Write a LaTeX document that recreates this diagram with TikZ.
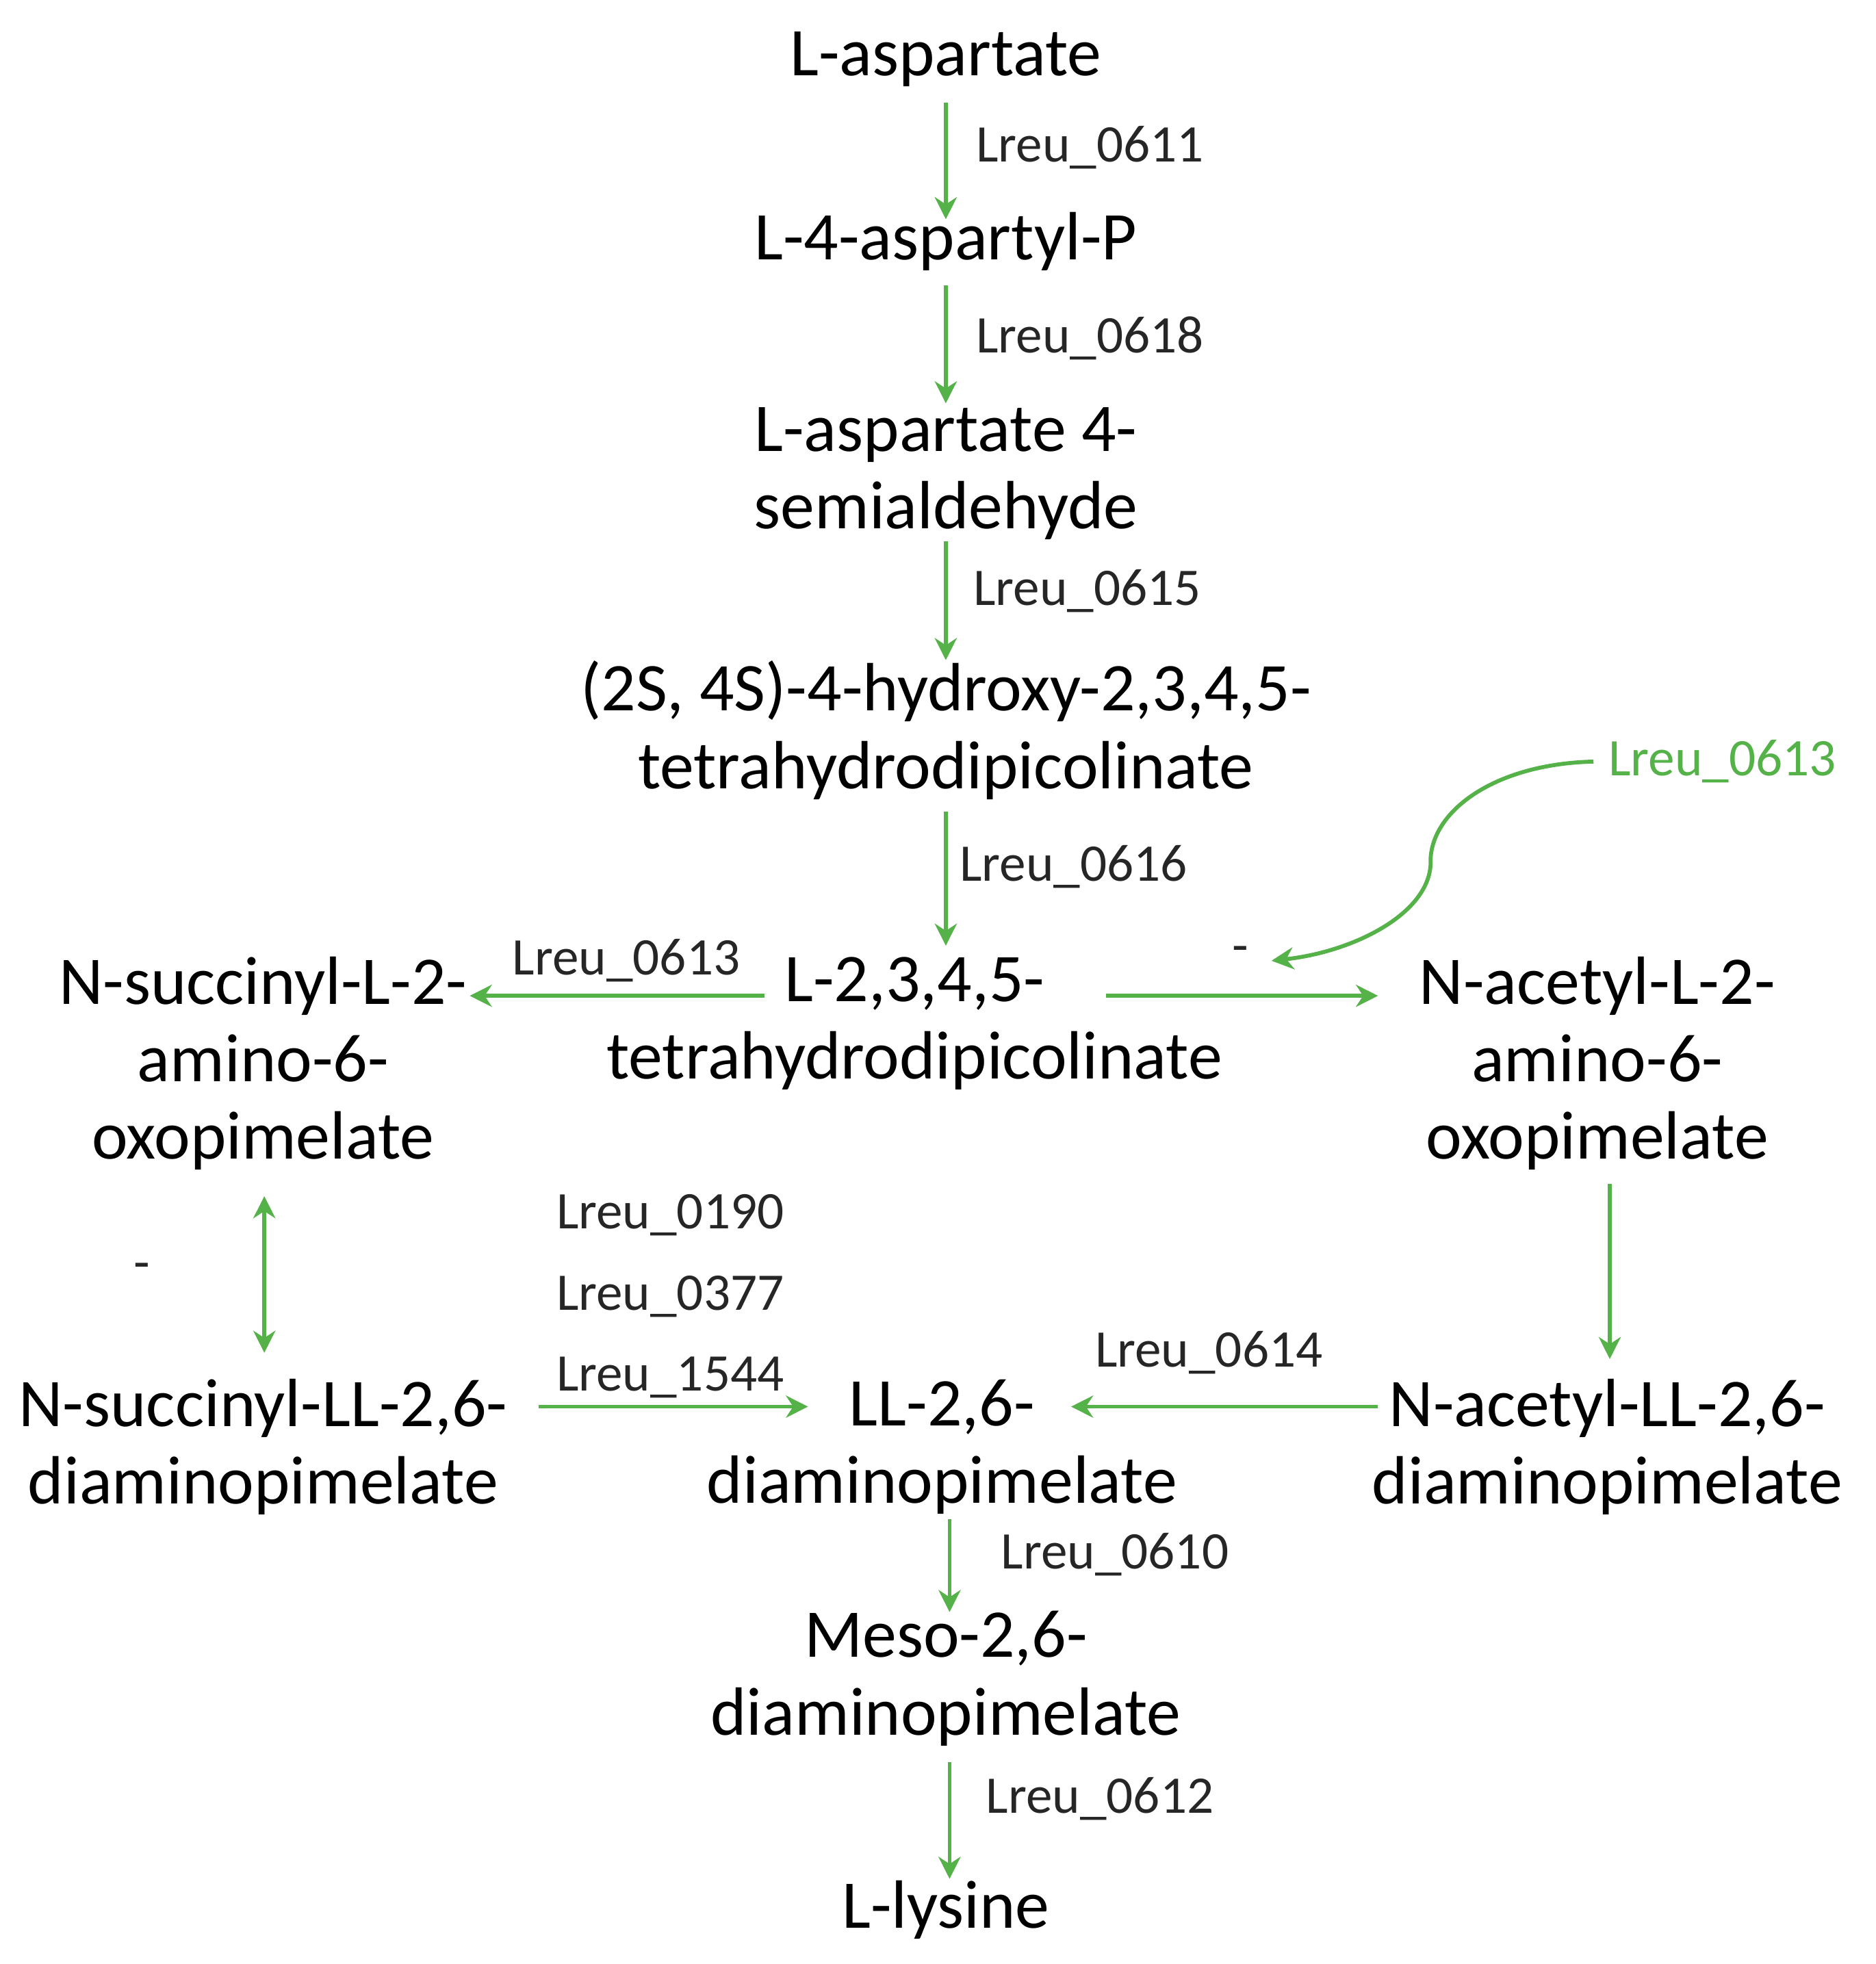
\documentclass[tikz,border=0pt]{standalone}
\usepackage{fontspec}
\setmainfont{Carlito}
\usetikzlibrary{arrows.meta}
\definecolor{grn}{RGB}{84,178,72}
\begin{document}
\begin{tikzpicture}[x=0.01cm,y=-0.01cm,
 met/.style={align=center,font=\fontsize{15.5}{17.6}\selectfont,inner sep=0pt},
 lab/.style={font=\fontsize{12}{14}\selectfont,inner sep=0pt,text=black!85},
 arr/.style={draw=grn,line width=0.9pt,-{Stealth[length=5pt,width=5pt]}}]
\useasboundingbox (0,0) rectangle (1497,1568);
\node[met] (asp) at (755,47) {L-aspartate};
\node[met] (ap) at (755,193) {L-4-aspartyl-P};
\node[met] (semi) at (755,378) {L-aspartate 4-\\semialdehyde};
\node[met] (hyd) at (755,583) {(2S, 4S)-4-hydroxy-2,3,4,5-\\tetrahydrodipicolinate};
\node[met] (thdp) at (730,817) {L-2,3,4,5-\\tetrahydrodipicolinate};
\node[met] (nsu) at (210,849) {N-succinyl-L-2-\\amino-6-\\oxopimelate};
\node[met] (nac) at (1275,849) {N-acetyl-L-2-\\amino-6-\\oxopimelate};
\node[met] (nsuLL) at (210,1155) {N-succinyl-LL-2,6-\\diaminopimelate};
\node[met] (LL) at (752,1155) {LL-2,6-\\diaminopimelate};
\node[met] (nacLL) at (1283,1155) {N-acetyl-LL-2,6-\\diaminopimelate};
\node[met] (meso) at (755,1340) {Meso-2,6-\\diaminopimelate};
\node[met] (lys) at (755,1525) {L-lysine};

\coordinate (a1) at (755,82); \coordinate (a2) at (755,175);
\coordinate (b1) at (755,228); \coordinate (b2) at (755,322);
\coordinate (c1) at (755,432); \coordinate (c2) at (755,527);
\coordinate (d1) at (755,648); \coordinate (d2) at (755,755);
\draw[arr] (a1) -- (a2); \draw[arr] (b1) -- (b2);
\draw[arr] (c1) -- (c2); \draw[arr] (d1) -- (d2);
\node[lab] (l1) at (870,118) {Lreu\_0611};
\node[lab] (l2) at (870,270) {Lreu\_0618};
\node[lab] (l3) at (868,472) {Lreu\_0615};
\node[lab] (l4) at (857,692) {Lreu\_0616};

\coordinate (e1) at (610,795); \coordinate (e2) at (375,795);
\draw[arr] (e1) -- (e2);
\node[lab] (l5) at (500,767) {Lreu\_0613};
\coordinate (f1) at (883,795); \coordinate (f2) at (1100,795);
\draw[arr] (f1) -- (f2);
\node[lab,text=grn] (l6) at (1375,608) {Lreu\_0613};
\coordinate (g1) at (1272,608); \coordinate (g2) at (1015,767);
\draw[arr] (g1) .. controls (1190,610) and (1140,650) .. (1142,690) .. controls (1140,730) and (1080,760) .. (g2);
\node[lab] (m1) at (990,762) {-};

\coordinate (h1) at (211,955); \coordinate (h2) at (211,1080);
\draw[arr,{Stealth[length=5pt,width=5pt]}-{Stealth[length=5pt,width=5pt]}] (h1) -- (h2);
\node[lab] (m2) at (113,1015) {-};
\coordinate (i1) at (1285,945); \coordinate (i2) at (1285,1085);
\draw[arr] (i1) -- (i2);
\coordinate (j1) at (1100,1123); \coordinate (j2) at (855,1123);
\draw[arr] (j1) -- (j2);
\node[lab] (l7) at (965,1080) {Lreu\_0614};
\coordinate (k1) at (430,1123); \coordinate (k2) at (645,1123);
\draw[arr] (k1) -- (k2);
\node[lab,align=left,font=\fontsize{12}{18.4}\selectfont] (l8) at (535,1035) {Lreu\_0190\\Lreu\_0377\\Lreu\_1544};
\coordinate (n1) at (758,1213); \coordinate (n2) at (758,1287);
\draw[arr] (n1) -- (n2);
\node[lab] (l9) at (890,1241) {Lreu\_0610};
\coordinate (o1) at (758,1407); \coordinate (o2) at (758,1500);
\draw[arr] (o1) -- (o2);
\node[lab] (l10) at (878,1436) {Lreu\_0612};
\end{tikzpicture}
\end{document}
